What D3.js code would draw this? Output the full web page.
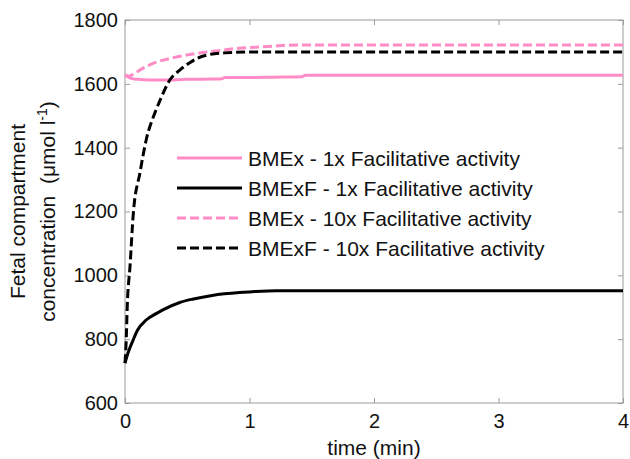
<!DOCTYPE html>
<html>
<head>
<meta charset="utf-8">
<script src="https://cdn.jsdelivr.net/npm/d3@7"></script>
<style>
  body { margin: 0; background: #fff; }
  svg { font-family: "Liberation Sans", Arial, sans-serif; }
</style>
</head>
<body>
<div id="chart"></div>
<script>
// x ticks (min) and y ticks (umol/l)
const xTicks = [0, 1, 2, 3, 4];
const yTicks = [600, 800, 1000, 1200, 1400, 1600, 1800];

// BMEx - 1x (pink solid)
const bmex1T = [0, 0.05, 0.1, 0.2, 0.3, 0.5, 0.7, 0.78, 0.8, 1.0, 1.2, 1.42, 1.45, 2, 3, 4];
const bmex1V = [1628, 1617, 1614, 1612, 1612, 1614, 1615, 1616, 1620, 1620, 1621, 1622, 1627, 1627, 1627, 1627];

// BMExF - 1x (black solid)
const bmexf1T = [0, 0.02, 0.065, 0.1, 0.17, 0.25, 0.3, 0.44, 0.55, 0.7, 0.92, 1.0, 1.22, 1.5, 2, 3, 4];
const bmexf1V = [725, 752, 797, 828, 860, 880, 891, 915, 926, 937, 946, 948, 952, 952, 952, 952, 952];

// BMEx - 10x (pink dashed)
const bmex10T = [0, 0.03, 0.08, 0.15, 0.23, 0.39, 0.59, 0.75, 0.9, 1.1, 1.4, 2, 3, 4];
const bmex10V = [1628, 1624, 1634, 1650, 1665, 1682, 1696, 1704, 1711, 1716, 1722, 1722, 1722, 1722];

// BMExF - 10x (black dashed)
const bmexf10T = [0, 0.01, 0.018, 0.04, 0.067, 0.12, 0.17, 0.24, 0.28, 0.36, 0.44, 0.52, 0.58, 0.68, 0.8, 1.06, 1.5, 2, 3, 4];
const bmexf10V = [725, 800, 902, 1027, 1195, 1321, 1424, 1509, 1547, 1612, 1643, 1666, 1680, 1692, 1697, 1700, 1700, 1700, 1700, 1700];

const seriesNames = [
  "BMEx - 1x Facilitative activity",
  "BMExF - 1x Facilitative activity",
  "BMEx - 10x Facilitative activity",
  "BMExF - 10x Facilitative activity"
];

const pink = "#ff8cc6";
const series = [
  { name: seriesNames[0], t: bmex1T, v: bmex1V, color: pink, dash: null },
  { name: seriesNames[1], t: bmexf1T, v: bmexf1V, color: "#000", dash: null },
  { name: seriesNames[2], t: bmex10T, v: bmex10V, color: pink, dash: "9,4" },
  { name: seriesNames[3], t: bmexf10T, v: bmexf10V, color: "#000", dash: "9,4" }
];

const width = 630, height = 459;
const margin = { top: 20, right: 7, bottom: 56, left: 125 };
const iw = width - margin.left - margin.right;
const ih = height - margin.top - margin.bottom;

const svg = d3.select("#chart").append("svg")
  .attr("width", width)
  .attr("height", height);

const g = svg.append("g")
  .attr("transform", `translate(${margin.left},${margin.top})`);

const x = d3.scaleLinear().domain([0, 4]).range([0, iw]);
const y = d3.scaleLinear().domain([600, 1800]).range([ih, 0]);

const frameColor = "#9a9a9a";

// axes with inward ticks
function styleAxis(sel) {
  sel.select(".domain").remove();
  sel.selectAll(".tick line").attr("stroke", frameColor);
  sel.selectAll(".tick text").attr("fill", "#111").style("font-size", "20px");
}

g.append("g")
  .attr("transform", `translate(0,${ih})`)
  .call(d3.axisBottom(x).tickValues(xTicks).tickFormat(d3.format("d")).tickSizeInner(-5).tickPadding(11))
  .call(styleAxis);

g.append("g")
  .call(d3.axisTop(x).tickValues(xTicks).tickFormat("").tickSizeInner(-5))
  .call(styleAxis);

g.append("g")
  .call(d3.axisLeft(y).tickValues(yTicks).tickFormat(d3.format("d")).tickSizeInner(-5).tickPadding(7))
  .call(styleAxis);

g.append("g")
  .attr("transform", `translate(${iw},0)`)
  .call(d3.axisRight(y).tickValues(yTicks).tickFormat("").tickSizeInner(-5))
  .call(styleAxis);

g.append("rect")
  .attr("width", iw)
  .attr("height", ih)
  .attr("fill", "none")
  .attr("stroke", frameColor)
  .attr("stroke-width", 1);

// lines
const line = d3.line()
  .x(d => x(d[0]))
  .y(d => y(d[1]))
  .curve(d3.curveMonotoneX);

g.selectAll(".series")
  .data(series)
  .join("path")
  .attr("class", "series")
  .attr("d", s => line(s.t.map((t, i) => [t, s.v[i]])))
  .attr("fill", "none")
  .attr("stroke", s => s.color)
  .attr("stroke-width", 3)
  .attr("stroke-dasharray", s => s.dash);

// legend
const legend = svg.append("g").attr("transform", "translate(177,158)");
const row = legend.selectAll("g")
  .data(series)
  .join("g")
  .attr("transform", (d, i) => `translate(0,${i * 30})`);

row.append("line")
  .attr("x1", 0).attr("x2", 65)
  .attr("stroke", d => d.color)
  .attr("stroke-width", 3)
  .attr("stroke-dasharray", d => d.dash);

row.append("text")
  .attr("x", 71)
  .attr("dy", "0.36em")
  .style("font-size", "21px")
  .attr("fill", "#111")
  .text(d => d.name);

// axis titles
svg.append("text")
  .attr("x", margin.left + iw / 2)
  .attr("y", 455)
  .attr("text-anchor", "middle")
  .style("font-size", "21px")
  .attr("fill", "#111")
  .text("time (min)");

const yTitle = svg.append("text")
  .attr("transform", `translate(25,${margin.top + ih / 2}) rotate(-90)`)
  .attr("text-anchor", "middle")
  .style("font-size", "21px")
  .style("white-space", "pre")
  .attr("fill", "#111");
yTitle.append("tspan").attr("x", 0).attr("dy", 0).text("Fetal compartment");
const l2 = yTitle.append("tspan").attr("x", 0).attr("dy", 30);
l2.append("tspan").text("concentration  (");
l2.append("tspan").text("\u03bcmol l");
l2.append("tspan").attr("dy", -8).style("font-size", "14px").text("-1");
l2.append("tspan").attr("dy", 8).text(")");
</script>
</body>
</html>
